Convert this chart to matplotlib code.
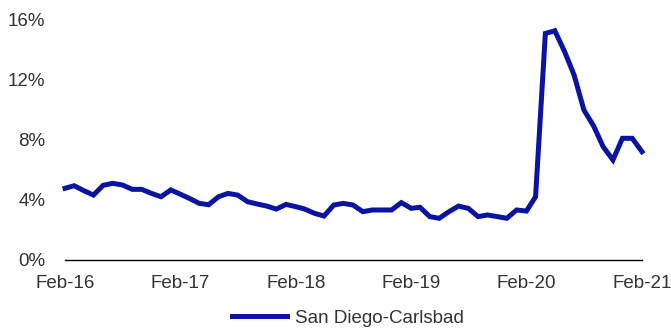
import numpy as np
import pandas as pd
import matplotlib
matplotlib.use('Agg')
import matplotlib.pyplot as plt
import matplotlib.dates as mdates
from matplotlib.ticker import FuncFormatter

plt.rcParams['font.family'] = ['Liberation Sans', 'DejaVu Sans']

# monthly unemployment rate, Feb 2016 .. Feb 2021
months = pd.date_range('2016-02-01', '2021-02-01', freq='MS')
rate = [4.76, 4.93, 4.6, 4.31, 4.96, 5.09, 4.98, 4.69, 4.69, 4.42, 4.2, 4.65,
        4.36, 4.09, 3.76, 3.67, 4.2, 4.42, 4.31, 3.87, 3.72, 3.58, 3.38, 3.69,
        3.54, 3.38, 3.1, 2.92, 3.65, 3.76, 3.65, 3.21, 3.32, 3.32, 3.32, 3.81,
        3.43, 3.5, 2.88, 2.77, 3.21, 3.58, 3.43, 2.88, 2.99, 2.88, 2.77, 3.32,
        3.25, 4.2, 15.04, 15.22, 13.83, 12.28, 9.96, 8.89, 7.52, 6.64, 8.08, 8.08,
        7.19]
series_name = 'San Diego-Carlsbad'
yticks = [0, 4, 8, 12, 16]

fig = plt.figure(figsize=(6.71, 3.28), dpi=100)
ax = fig.add_axes([65 / 671, 68 / 328, 577 / 671, 241 / 328])

ax.plot(months, rate, color='#0A14A0', linewidth=3.6, label=series_name,
        solid_joinstyle='miter', clip_on=False)

ax.set_xlim(months[0], months[-1])
ax.set_ylim(0, 16)
ax.set_yticks(yticks)
ax.yaxis.set_major_formatter(FuncFormatter(lambda v, p: f'{v:.0f}%'))
ax.xaxis.set_major_locator(mdates.MonthLocator(bymonth=2))
ax.xaxis.set_major_formatter(mdates.DateFormatter('%b-%y'))

for s in ['top', 'right', 'left']:
    ax.spines[s].set_visible(False)
ax.spines['bottom'].set_color('black')
ax.spines['bottom'].set_linewidth(1.0)
ax.tick_params(axis='both', length=0, labelsize=13.5, colors='#333333')
ax.tick_params(axis='y', pad=14)
ax.tick_params(axis='x', pad=11)

fig.legend(loc='center', bbox_to_anchor=(348 / 671, 10 / 328), frameon=False,
           fontsize=13.5, handlelength=2.9, handletextpad=0.45, labelcolor='#333333')

fig.savefig('out.png', dpi=100)
